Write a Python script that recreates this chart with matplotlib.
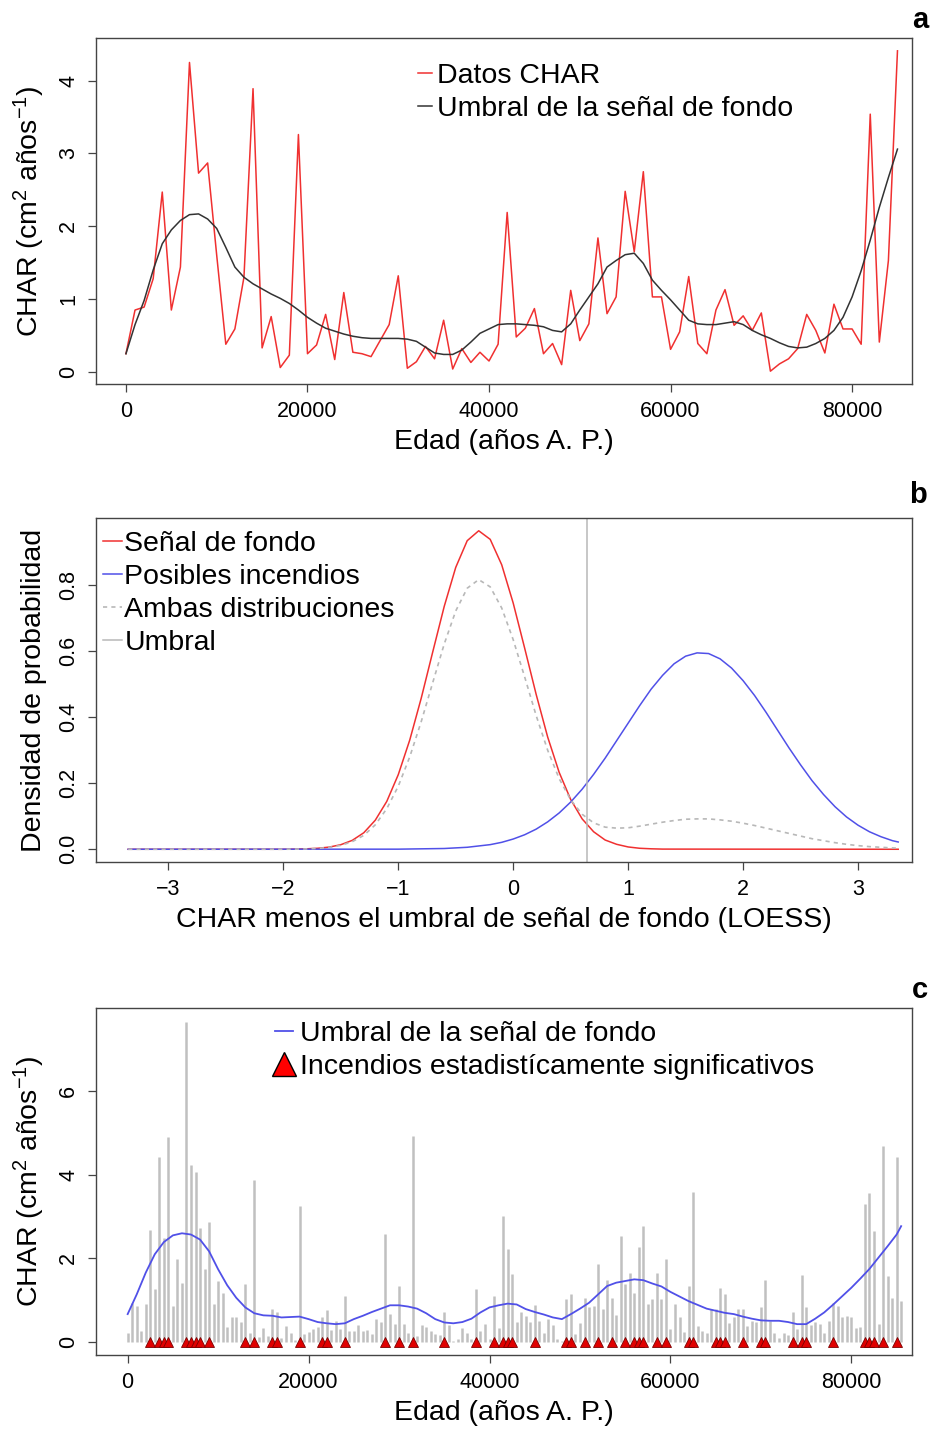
import numpy as np
import matplotlib
matplotlib.use("Agg")
import matplotlib.pyplot as plt
from matplotlib.lines import Line2D

plt.rcParams['font.family'] = ['Liberation Sans', 'DejaVu Sans']
plt.rcParams['mathtext.fontset'] = 'custom'
plt.rcParams['mathtext.rm'] = 'Liberation Sans'
plt.rcParams['mathtext.it'] = 'Liberation Sans:italic'

# ---------------- Panel a data ----------------
age_a = list(range(0, 86000, 1000))
char_a = [0.25, 0.85, 0.89, 1.28, 2.47, 0.85, 1.44, 4.25, 2.73, 2.87,
          1.60, 0.38, 0.59, 1.30, 3.89, 0.33, 0.76, 0.06, 0.23, 3.26,
          0.25, 0.37, 0.79, 0.17, 1.09, 0.27, 0.25, 0.21, 0.43, 0.65,
          1.32, 0.05, 0.14, 0.35, 0.18, 0.71, 0.04, 0.32, 0.13, 0.27,
          0.15, 0.38, 2.19, 0.48, 0.60, 0.87, 0.25, 0.39, 0.10, 1.12,
          0.43, 0.66, 1.84, 0.80, 1.03, 2.48, 1.65, 2.75, 1.03, 1.03,
          0.31, 0.55, 1.31, 0.39, 0.25, 0.85, 1.13, 0.64, 0.77, 0.57,
          0.81, 0.01, 0.11, 0.18, 0.32, 0.79, 0.57, 0.26, 0.93, 0.59,
          0.59, 0.38, 3.54, 0.41, 1.53, 4.41]
thr_a = [0.25, 0.65, 0.98, 1.40, 1.76, 1.95, 2.08, 2.16, 2.17, 2.10,
         1.97, 1.71, 1.44, 1.30, 1.21, 1.14, 1.07, 1.01, 0.94, 0.85,
         0.75, 0.67, 0.60, 0.56, 0.52, 0.49, 0.47, 0.46, 0.46, 0.46,
         0.46, 0.45, 0.42, 0.34, 0.26, 0.24, 0.24, 0.30, 0.41, 0.53,
         0.59, 0.65, 0.66, 0.66, 0.65, 0.64, 0.62, 0.57, 0.55, 0.66,
         0.85, 1.03, 1.21, 1.44, 1.53, 1.61, 1.63, 1.49, 1.26, 1.12,
         0.99, 0.85, 0.71, 0.66, 0.65, 0.65, 0.67, 0.69, 0.65, 0.57,
         0.51, 0.46, 0.40, 0.35, 0.33, 0.34, 0.39, 0.46, 0.57, 0.75,
         1.03, 1.39, 1.81, 2.26, 2.67, 3.06]

# ---------------- Panel b data ----------------
xb_red = [-3.35, -2.0, -1.9, -1.8, -1.7, -1.6, -1.5, -1.4, -1.3, -1.2, -1.1,
          -1.0, -0.9, -0.8, -0.7, -0.6, -0.5, -0.4, -0.3, -0.2, -0.1, 0.0,
          0.1, 0.2, 0.3, 0.4, 0.5, 0.6, 0.7, 0.8, 0.9, 1.0, 1.1, 1.2, 1.3, 3.35]
dens_red = [0.0, 0.0, 0.0005, 0.0013, 0.003, 0.0066, 0.0138, 0.027, 0.050,
            0.088, 0.145, 0.226, 0.331, 0.458, 0.598, 0.736, 0.854, 0.935,
            0.965, 0.939, 0.862, 0.746, 0.609, 0.469, 0.340, 0.233, 0.151,
            0.092, 0.053, 0.028, 0.015, 0.007, 0.003, 0.0014, 0.0005, 0.0]
xb_blue = [-3.35, -1.0, -0.6, -0.4, -0.2, -0.1, 0.0, 0.1, 0.2, 0.3, 0.4, 0.5,
           0.6, 0.7, 0.8, 0.9, 1.0, 1.1, 1.2, 1.3, 1.4, 1.5, 1.6, 1.7, 1.8,
           1.9, 2.0, 2.1, 2.2, 2.3, 2.4, 2.5, 2.6, 2.7, 2.8, 2.9, 3.0, 3.1,
           3.2, 3.3, 3.35]
dens_blue = [0.0, 0.0003, 0.0023, 0.006, 0.014, 0.021, 0.031, 0.044, 0.061,
             0.083, 0.110, 0.143, 0.182, 0.227, 0.276, 0.329, 0.382, 0.435,
             0.485, 0.527, 0.562, 0.585, 0.595, 0.593, 0.577, 0.549, 0.511,
             0.466, 0.415, 0.361, 0.307, 0.256, 0.208, 0.166, 0.129, 0.098,
             0.073, 0.053, 0.038, 0.026, 0.022]
xb_mix = [-3.35, -2.0, -1.9, -1.8, -1.7, -1.6, -1.5, -1.4, -1.3, -1.2, -1.1,
          -1.0, -0.9, -0.8, -0.7, -0.6, -0.5, -0.4, -0.3, -0.2, -0.1, 0.0,
          0.1, 0.2, 0.3, 0.4, 0.5, 0.6, 0.7, 0.8, 0.9, 1.0, 1.1, 1.2, 1.3,
          1.4, 1.5, 1.6, 1.7, 1.8, 1.9, 2.0, 2.1, 2.2, 2.3, 2.4, 2.5, 2.6,
          2.7, 2.8, 2.9, 3.0, 3.1, 3.2, 3.3, 3.35]
dens_mix = [0.0, 0.0, 0.0004, 0.0011, 0.0025, 0.0056, 0.0117, 0.023, 0.042,
            0.074, 0.123, 0.191, 0.280, 0.387, 0.505, 0.622, 0.722, 0.791,
            0.817, 0.795, 0.731, 0.635, 0.522, 0.405, 0.300, 0.214, 0.150,
            0.106, 0.080, 0.067, 0.064, 0.065, 0.070, 0.076, 0.082, 0.087,
            0.091, 0.092, 0.092, 0.089, 0.085, 0.079, 0.072, 0.064, 0.056,
            0.048, 0.040, 0.032, 0.026, 0.020, 0.015, 0.011, 0.008, 0.006,
            0.004, 0.003]
umbral_b = 0.64

# ---------------- Panel c data ----------------
age_c = list(range(0, 86000, 500))
char_c = [0.23, 0.94, 0.87, 0.27, 0.90, 2.67, 1.28, 4.42, 2.49, 4.91,
          0.87, 1.99, 1.42, 7.65, 4.24, 4.06, 2.73, 1.74, 2.87, 0.90,
          1.46, 1.18, 0.37, 0.59, 0.59, 0.47, 1.40, 0.23, 3.88, 0.13,
          0.33, 0.15, 0.79, 0.71, 0.11, 0.39, 0.21, 0.05, 3.26, 0.19,
          0.25, 0.31, 0.37, 0.61, 0.77, 0.30, 0.50, 0.31, 1.10, 0.27,
          0.27, 0.40, 0.27, 0.29, 0.19, 0.55, 0.48, 2.59, 0.67, 0.43,
          1.33, 0.43, 0.23, 4.93, 0.15, 0.40, 0.35, 0.27, 0.19, 0.17,
          0.71, 0.40, 0.03, 0.07, 0.33, 0.23, 0.07, 1.28, 0.27, 0.43,
          0.07, 1.10, 0.33, 3.02, 2.23, 1.63, 0.47, 0.73, 0.63, 0.47,
          0.88, 0.51, 0.23, 0.56, 0.40, 0.07, 0.03, 1.04, 1.14, 0.19,
          0.45, 1.06, 0.83, 0.87, 1.86, 0.80, 1.48, 1.06, 0.64, 2.53,
          1.40, 1.64, 1.18, 2.28, 2.77, 0.90, 1.02, 1.64, 1.04, 1.99,
          0.31, 0.90, 0.59, 0.25, 1.34, 3.58, 0.39, 0.27, 0.21, 0.80,
          0.78, 1.30, 1.14, 0.45, 0.59, 0.79, 0.79, 0.39, 0.51, 0.48,
          0.83, 1.48, 0.51, 0.23, 0.09, 0.23, 0.17, 0.71, 0.31, 1.60,
          0.83, 0.40, 0.47, 0.43, 0.23, 0.51, 0.94, 0.87, 0.61, 0.63,
          0.59, 0.33, 0.37, 3.31, 3.56, 2.65, 0.43, 4.69, 1.58, 1.06,
          4.42, 0.98]
age_thr_c = list(range(0, 86000, 1000)) + [85500]
thr_c = [0.67, 1.14, 1.66, 2.10, 2.39, 2.55, 2.60, 2.57, 2.45, 2.17,
         1.74, 1.36, 1.06, 0.83, 0.69, 0.64, 0.63, 0.59, 0.60, 0.61,
         0.55, 0.48, 0.45, 0.43, 0.45, 0.55, 0.63, 0.72, 0.80, 0.88,
         0.88, 0.85, 0.80, 0.69, 0.55, 0.47, 0.45, 0.48, 0.56, 0.71,
         0.83, 0.88, 0.92, 0.90, 0.79, 0.72, 0.66, 0.59, 0.55, 0.67,
         0.80, 0.94, 1.14, 1.34, 1.42, 1.46, 1.50, 1.48, 1.40, 1.33,
         1.20, 1.09, 0.98, 0.89, 0.80, 0.75, 0.70, 0.67, 0.61, 0.56,
         0.52, 0.51, 0.51, 0.48, 0.43, 0.43, 0.56, 0.71, 0.90, 1.10,
         1.30, 1.52, 1.75, 2.02, 2.29, 2.57, 2.77]
fire_ages = [2500, 3500, 4000, 4500, 6500, 7000, 7500, 8000, 9000, 13000,
             14000, 16000, 16500, 19000, 21500, 22000, 24000, 28500, 30000,
             31500, 35000, 38500, 40500, 41500, 42000, 42500, 45000, 48500,
             49000, 50500, 52000, 53500, 55000, 56000, 56500, 57000, 58500,
             59500, 62000, 62500, 65000, 65500, 66000, 68000, 70000, 70500,
             73500, 74500, 75000, 78000, 81500, 82000, 82500, 83500, 85000]

W, H = 930, 1433
fig = plt.figure(figsize=(W / 100, H / 100), dpi=100)

def axes_px(left, top, right, bottom):
    return fig.add_axes([left / W, 1 - bottom / H, (right - left) / W, (bottom - top) / H])

TICK = 15.5
LAB = 20.5
RED = '#F03030'
BLUE = '#5050E8'
GRAY = '#C0C0C0'
LSP = 0.25

def style(ax):
    for s in ax.spines.values():
        s.set_color('#444444')
        s.set_linewidth(1.0)
    ax.tick_params(length=6, width=0.9, color='#444444', labelsize=TICK, pad=6)
    ax.tick_params(axis='y', labelrotation=90)
    for lab in ax.get_yticklabels():
        lab.set_va('center')

ylab = r"CHAR (cm$^\mathregular{2}$ años$^\mathregular{-1}$)"

# ---------------- Panel a ----------------
ax1 = axes_px(96, 38, 912, 384)
ax1.plot(age_a, char_a, color=RED, lw=1.1, label='Datos CHAR')
ax1.plot(age_a, thr_a, color='#333333', lw=1.1, label='Umbral de la señal de fondo')
ax1.set_xlim(-3300, 86600)
ax1.set_ylim(-0.166, 4.586)
ax1.set_xticks([0, 20000, 40000, 60000, 80000])
ax1.set_yticks([0, 1, 2, 3, 4])
style(ax1)
ax1.set_xlabel('Edad (años A. P.)', fontsize=LAB, labelpad=5)
ax1.set_ylabel(ylab, fontsize=LAB, labelpad=8)
ax1.legend(loc='upper left', bbox_to_anchor=(0.3946, 0.928), frameon=False,
           fontsize=LAB, handlelength=0.5, handletextpad=0.18, labelspacing=LSP,
           borderpad=0, borderaxespad=0)
fig.text(920 / W, 1 - 20 / H, 'a', fontsize=21, fontweight='bold', ha='center', va='center')

# ---------------- Panel b ----------------
ax2 = axes_px(96, 518, 912, 862)
ax2.plot(xb_red, dens_red, color=RED, lw=1.1, label='Señal de fondo')
ax2.plot(xb_blue, dens_blue, color=BLUE, lw=1.1, label='Posibles incendios')
ax2.plot(xb_mix, dens_mix, color='#B8B8B8', lw=1.2, ls=(0, (2.5, 2.5)), label='Ambas distribuciones')
ax2.axvline(umbral_b, color='#B8B8B8', lw=1.1, label='Umbral')
ax2.set_xlim(-3.63, 3.47)
ax2.set_ylim(-0.0386, 1.0037)
ax2.set_xticks([-3, -2, -1, 0, 1, 2, 3])
ax2.set_yticks([0.0, 0.2, 0.4, 0.6, 0.8])
ax2.set_xticklabels(['\u22123', '\u22122', '\u22121', '0', '1', '2', '3'])
ax2.set_yticklabels(['0.0', '0.2', '0.4', '0.6', '0.8'])
style(ax2)
ax2.set_xlabel('CHAR menos el umbral de señal de fondo (LOESS)', fontsize=LAB, labelpad=5)
ax2.set_ylabel('Densidad de probabilidad', fontsize=LAB, labelpad=8)
ax2.legend(loc='upper left', bbox_to_anchor=(0.0086, 0.963), frameon=False,
           fontsize=LAB, handlelength=0.65, handletextpad=0.1, labelspacing=LSP,
           borderpad=0, borderaxespad=0)
fig.text(918 / W, 1 - 495 / H, 'b', fontsize=21, fontweight='bold', ha='center', va='center')

# ---------------- Panel c ----------------
ax3 = axes_px(96, 1008, 912, 1355)
ax3.vlines(age_c, 0, char_c, color=GRAY, lw=1.8)
ax3.plot(age_thr_c, thr_c, color=BLUE, lw=1.3)
ax3.plot(fire_ages, [0] * len(fire_ages), ls='none', marker='^', ms=7,
         mfc='#E00000', mec='#7A0000', mew=0.6)
ax3.set_xlim(-3500, 86700)
ax3.set_ylim(-0.307, 7.98)
ax3.set_xticks([0, 20000, 40000, 60000, 80000])
ax3.set_yticks([0, 2, 4, 6])
style(ax3)
ax3.set_xlabel('Edad (años A. P.)', fontsize=LAB, labelpad=5)
ax3.set_ylabel(ylab, fontsize=LAB, labelpad=8)
h1 = Line2D([], [], color=BLUE, lw=1.3)
h2 = Line2D([], [], ls='none', marker='^', ms=17, mfc='#FF0000', mec='black', mew=1.0)
ax3.legend([h1, h2], ['Umbral de la señal de fondo', 'Incendios estadistícamente significativos'],
           loc='upper left', bbox_to_anchor=(0.219, 0.963), frameon=False,
           fontsize=LAB, handlelength=0.65, handletextpad=0.25, labelspacing=LSP,
           borderpad=0, borderaxespad=0)
fig.text(920 / W, 1 - 990 / H, 'c', fontsize=21, fontweight='bold', ha='center', va='center')

fig.savefig('out.png', dpi=100)
